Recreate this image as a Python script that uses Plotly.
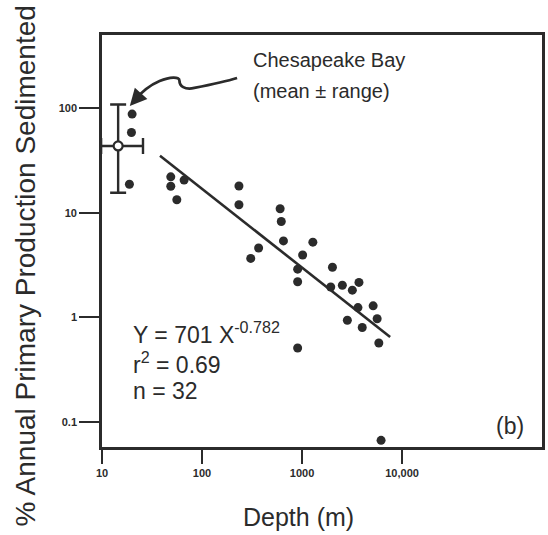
import plotly.graph_objects as go

# ---- data ----
depth_m = [20.0, 19.7, 18.8, 48.7, 48.7, 66.2, 56, 234, 234, 604, 620, 652, 368, 307,
           1283, 1014, 904, 904, 2014, 2529, 1936, 3707, 3184, 3623, 5140, 5636, 2838,
           4000, 5860, 904, 6170]
pct_sedimented = [87.5, 58.4, 18.7, 22.0, 17.9, 20.5, 13.3, 18.0, 11.9, 10.9, 8.24, 5.38,
                  4.60, 3.66, 5.23, 3.94, 2.89, 2.19, 3.01, 2.03, 1.95, 2.16, 1.82, 1.24,
                  1.29, 0.97, 0.94, 0.80, 0.57, 0.51, 0.067]

fit_x = [38, 7600]
fit_y = [35, 0.65]

ches_x = [14.5]
ches_y = [43.4]
ches_y_hi = [108]
ches_y_lo = [15.5]
ches_x_hi = [25.7]
ches_x_lo = [9.8]

x_tickvals = [10, 100, 1000, 10000]
x_ticktext = ["<b>10</b>", "<b>100</b>", "<b>1000</b>", "<b>10,000</b>"]
y_tickvals = [0.1, 1, 10, 100]
y_ticktext = ["<b>0.1</b>", "<b>1</b>", "<b>10</b>", "<b>100</b>"]

INK = "#2b2b2b"
FONT = "Liberation Sans, Arial, sans-serif"

W, H = 548, 535
L, R, T, B = 102, 3, 35, 88
PW, PH = W - L - R, H - T - B


def px(x):
    return (x - L) / PW


def py(y):
    return (H - B - y) / PH


fig = go.Figure()

fig.add_trace(go.Scatter(
    x=fit_x, y=fit_y, mode="lines",
    line=dict(color=INK, width=2.6), showlegend=False, hoverinfo="skip"))

fig.add_trace(go.Scatter(
    x=depth_m, y=pct_sedimented, mode="markers",
    marker=dict(size=9, color=INK), showlegend=False))

fig.add_trace(go.Scatter(
    x=ches_x, y=ches_y, mode="markers",
    marker=dict(size=9, color="white", line=dict(color=INK, width=2.2)),
    error_y=dict(type="data", symmetric=False,
                 array=[ches_y_hi[0] - ches_y[0]],
                 arrayminus=[ches_y[0] - ches_y_lo[0]],
                 color=INK, thickness=2.4, width=8),
    error_x=dict(type="data", symmetric=False,
                 array=[ches_x_hi[0] - ches_x[0]],
                 arrayminus=[ches_x[0] - ches_x_lo[0]],
                 color=INK, thickness=2.4, width=8),
    cliponaxis=False, showlegend=False))

# curvy arrow (pixel path converted to paper coords)
pts = [("M", [(238, 78)]),
       ("C", [(225, 82), (205, 86), (195, 88)]),
       ("C", [(185, 90), (180, 86), (180, 81)]),
       ("C", [(180, 76), (170, 77), (160, 81)]),
       ("C", [(148, 86), (140, 94), (134, 101)])]
path = " ".join(cmd + " " + " ".join(f"{px(a):.4f},{py(b):.4f}" for a, b in p)
                for cmd, p in pts)
fig.add_shape(type="path", path=path, xref="paper", yref="paper",
              line=dict(color=INK, width=2.8))


def txt(x, y, text, size, xanchor="left", **kw):
    return dict(x=px(x), y=py(y), xref="paper", yref="paper", text=text,
                xanchor=xanchor, yanchor="middle", showarrow=False,
                font=dict(family=FONT, size=size, color=INK), **kw)


annotations = [
    dict(x=px(130), y=py(106), xref="paper", yref="paper", text="",
         showarrow=True, ax=9, ay=-10, arrowhead=2, arrowsize=1.3,
         arrowwidth=2.6, arrowcolor=INK),
    txt(252, 60, "Chesapeake Bay", 20),
    txt(252, 91, "(mean ± range)", 20),
    txt(131, 333, "Y = 701 X<sup>-0.782</sup>", 23),
    txt(131, 363, "r<sup>2</sup> = 0.69", 23),
    txt(131, 391, "n = 32", 23),
    txt(513, 426, "(b)", 23, xanchor="center"),
    txt(300, 517, "Depth (m)", 25, xanchor="center"),
    txt(24, 266, "% Annual Primary Production Sedimented", 28,
        xanchor="center", textangle=-90),
]

fig.update_layout(
    width=W, height=H,
    margin=dict(l=L, r=R, t=T, b=B),
    paper_bgcolor="white", plot_bgcolor="white",
    annotations=annotations,
    xaxis=dict(type="log", range=[1.0, 1 + PW / 100.7],
               tickvals=x_tickvals, ticktext=x_ticktext,
               ticks="outside", ticklen=14, tickwidth=2.4, tickcolor=INK,
               showline=True, linewidth=2.6, linecolor=INK, mirror=True,
               showgrid=False, zeroline=False,
               tickfont=dict(family=FONT, size=11, color=INK)),
    yaxis=dict(type="log", range=[2 - (H - B - 108) / 104.7, 2 + (108 - T) / 104.7],
               tickvals=y_tickvals, ticktext=y_ticktext,
               ticks="outside", ticklen=20, tickwidth=2.4, tickcolor=INK,
               showline=True, linewidth=2.6, linecolor=INK, mirror=True,
               showgrid=False, zeroline=False,
               tickfont=dict(family=FONT, size=11, color=INK)),
)

fig.write_html("out.html")
